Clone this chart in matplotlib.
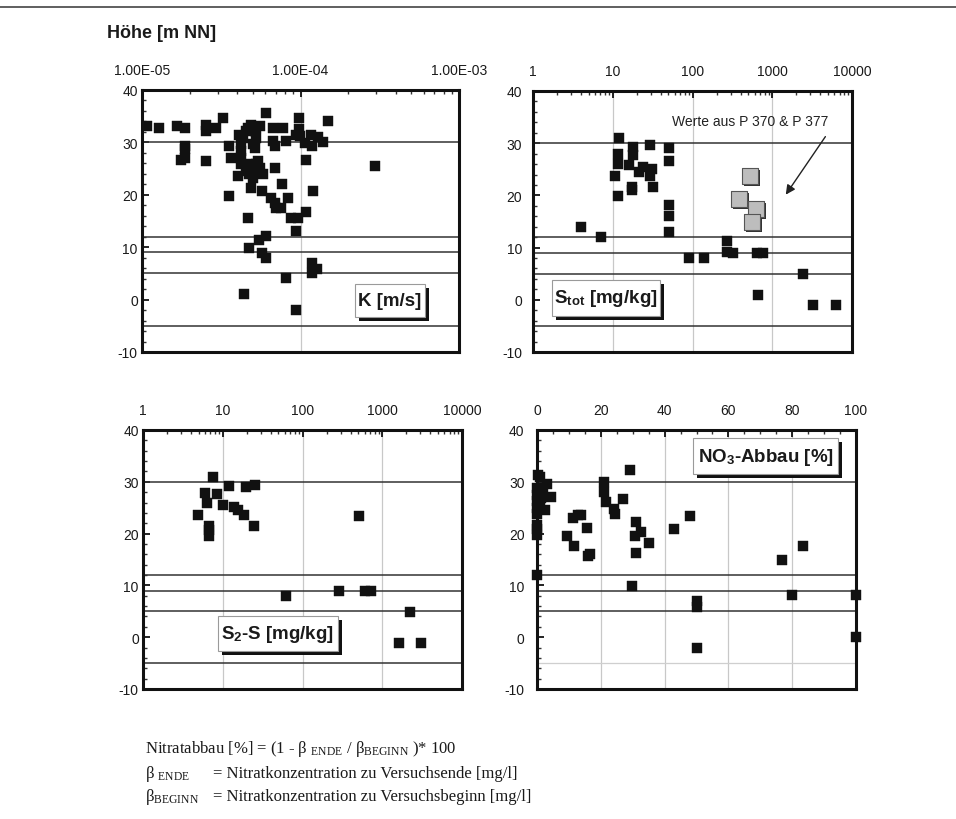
import matplotlib
matplotlib.use("Agg")
import matplotlib.pyplot as plt
from matplotlib.patches import Rectangle
from matplotlib.transforms import offset_copy
from matplotlib.lines import Line2D
from matplotlib.ticker import FixedLocator, LogLocator, MultipleLocator, NullFormatter

plt.rcParams['font.family'] = ['Liberation Sans', 'DejaVu Sans']
plt.rcParams['axes.unicode_minus'] = False
plt.rcParams['mathtext.fontset'] = 'custom'
plt.rcParams['mathtext.rm'] = 'Liberation Serif'
plt.rcParams['mathtext.it'] = 'Liberation Serif:italic'
plt.rcParams['mathtext.bf'] = 'Liberation Sans:bold'
plt.rcParams['mathtext.sf'] = 'Liberation Sans'

# ---------------- data ----------------
ref_levels = [30, 12, 9, 5, -5]

k_values = [1.08e-5, 1.28e-5, 1.67e-5, 1.88e-5, 1.75e-5, 1.87e-5, 1.87e-5, 1.87e-5,
            2.55e-5, 2.55e-5, 2.55e-5, 2.95e-5, 3.26e-5, 3.56e-5, 3.56e-5, 3.65e-5, 4.01e-5,
            4.11e-5, 4.22e-5, 4.22e-5, 4.22e-5, 4.22e-5, 4.32e-5, 4.54e-5, 4.65e-5, 4.88e-5,
            5.00e-5, 5.13e-5, 5.25e-5, 5.52e-5, 5.25e-5, 5.00e-5, 5.13e-5, 4.54e-5, 4.76e-5,
            5.00e-5, 5.25e-5, 5.38e-5, 5.52e-5, 5.79e-5, 4.88e-5, 5.25e-5, 4.88e-5, 4.65e-5,
            4.76e-5, 5.46e-5, 6.08e-5, 5.73e-5, 6.08e-5, 4.43e-5, 6.08e-5, 6.70e-5, 6.70e-5,
            6.87e-5, 6.87e-5, 5.73e-5, 6.54e-5, 6.87e-5, 7.04e-5, 7.57e-5, 7.69e-5, 7.76e-5,
            8.15e-5, 8.35e-5, 8.77e-5, 8.15e-5, 9.43e-5, 9.81e-5, 9.81e-5, 9.90e-5, 9.66e-5,
            9.43e-5, 9.43e-5, 1.08e-4, 1.09e-4, 1.07e-4, 1.17e-4, 1.19e-4, 1.20e-4, 1.19e-4,
            1.19e-4, 1.28e-4, 1.29e-4, 1.38e-4, 1.49e-4, 2.97e-4]
k_heights = [33.1, 32.8, 33.1, 32.8, 26.7, 27.1, 29.3, 28.7,
             33.4, 32.2, 26.4, 32.7, 34.7, 29.3, 19.7, 27.1, 23.6,
             31.5, 29.6, 28.3, 27.1, 25.8, 30.9, 32.2, 32.8, 33.4,
             32.8, 32.2, 32.8, 33.1, 30.9, 29.6, 29.0, 24.5, 23.9,
             23.2, 24.5, 26.4, 25.1, 23.9, 25.8, 25.8, 21.3, 15.6,
             9.8, 11.4, 12.1, 8.9, 8.0, 1.0, 35.7, 32.8, 30.3,
             29.3, 25.1, 20.8, 19.4, 18.4, 17.5, 17.5, 22.0, 32.8,
             30.3, 19.4, 15.6, 4.1, 31.5, 34.7, 32.5, 31.2, 15.6,
             13.0, -2.0, 26.7, 16.8, 29.9, 31.5, 29.3, 20.7, 7.0,
             5.0, 5.9, 31.0, 30.1, 34.0, 25.5]

stot_values = [4.05, 7.1, 10.6, 12.0, 11.7, 11.5, 11.5, 15.9, 17.7, 17.7, 17.2, 17.4,
               21.5, 24.1, 29.2, 30.7, 29.5, 32.2, 50.7, 50.7, 50.7, 50.7, 50.7,
               91.2, 141, 274, 274, 326, 640, 762, 671, 2421, 3236, 6353]
stot_heights = [13.9, 12.0, 23.7, 31.0, 28.0, 26.1, 19.9, 25.8, 29.3, 27.7, 21.6, 21.0,
                24.5, 25.4, 29.6, 25.1, 23.8, 21.6, 29.1, 26.6, 18.2, 16.0, 13.0,
                8.0, 8.0, 11.2, 9.1, 9.0, 9.0, 9.0, 1.0, 5.0, -1.0, -1.0]
p370_values = [528, 384, 629, 554]
p370_heights = [23.7, 19.4, 17.4, 14.9]

s2s_values = [4.91, 5.96, 6.37, 6.75, 6.70, 6.65, 7.58, 8.51, 9.93, 12.0, 13.8, 15.6,
              18.4, 19.5, 24.6, 25.3, 62, 518, 290, 610, 718, 2242, 1633, 3052]
s2s_heights = [23.6, 27.9, 26.0, 21.5, 20.6, 19.6, 31.0, 27.6, 25.6, 29.2, 25.1, 24.5,
               23.6, 29.0, 21.5, 29.4, 7.9, 23.4, 8.9, 8.9, 8.9, 4.8, -1.1, -1.1]

no3_values = [0.3, 0.8, 0.0, 0.0, 0.0, 0.0, 0.0, 0.0, 0.0, 0.0, 0.6, 0.8, 1.4, 1.9,
              3.0, 2.4, 4.5, 0.0, 9.5, 11.2, 11.6, 12.7, 13.7, 15.6, 15.9, 16.5,
              20.9, 21.1, 21.6, 24.1, 24.6, 27.1, 29.1, 29.9, 31.0, 30.6, 31.0, 32.6,
              35.2, 42.9, 47.9, 50.0, 50.0, 50.0, 76.7, 79.9, 83.3, 99.9, 99.9]
no3_heights = [31.3, 30.9, 28.8, 27.5, 26.3, 25.0, 23.7, 21.7, 20.8, 19.8, 28.2, 25.6, 26.9, 28.8,
               29.5, 24.6, 27.0, 12.1, 19.5, 23.0, 17.6, 23.5, 23.6, 21.0, 15.6, 16.1,
               30.0, 28.1, 26.1, 24.8, 23.8, 26.6, 32.2, 9.8, 22.2, 19.5, 16.3, 20.3,
               18.2, 20.8, 23.4, 7.0, 5.8, -2.0, 15.0, 8.1, 17.6, 8.1, 0.0]

k_ticks = [1e-5, 1e-4, 1e-3]
k_ticklabels = ["1.00E-05", "1.00E-04", "1.00E-03"]
s_ticks = [1, 10, 100, 1000, 10000]
s_ticklabels = ["1", "10", "100", "1000", "10000"]
no3_ticks = [0, 20, 40, 60, 80, 100]
y_ticks = [-10, 0, 10, 20, 30, 40]

# ---------------- figure ----------------
W, H = 956, 820
fig = plt.figure(figsize=(W / 100, H / 100), dpi=100)
fig.patch.set_facecolor('white')

def px_axes(l, r, t, b):
    return fig.add_axes([l / W, 1 - b / H, (r - l) / W, (b - t) / H])

ax1 = px_axes(142, 459, 91, 353)
ax2 = px_axes(533, 852, 92, 353)
ax3 = px_axes(143, 462, 431, 690)
ax4 = px_axes(537, 856, 431, 690)

TXT = '#1a1a1a'

def style(ax, xlog, xlim, xticks, xlabels, vgrid, minor_x, ypad, light_levels=()):
    if xlog:
        ax.set_xscale('log')
        ax.xaxis.set_minor_locator(LogLocator(base=10, subs=range(2, 10)))
    else:
        ax.xaxis.set_minor_locator(MultipleLocator(minor_x))
    ax.set_xlim(*xlim)
    ax.set_ylim(-10, 40)
    ax.xaxis.set_major_locator(FixedLocator(xticks))
    ax.set_xticklabels(xlabels)
    ax.xaxis.set_minor_formatter(NullFormatter())
    ax.set_yticks(y_ticks)
    ax.yaxis.set_minor_locator(MultipleLocator(2))
    ax.tick_params(axis='x', which='both', direction='in', top=True, bottom=False,
                   labeltop=True, labelbottom=False, pad=9, labelsize=10, labelcolor=TXT)
    ax.tick_params(axis='y', which='both', direction='in', left=True, right=False,
                   pad=ypad, labelsize=10, labelcolor=TXT)
    ax.tick_params(which='major', length=5, width=1.3, color='#111')
    ax.tick_params(which='minor', length=3, width=1.0, color='#333')
    for s in ax.spines.values():
        s.set_linewidth(2.2)
        s.set_color('#111')
    for v in vgrid:
        ax.axvline(v, color='#c8c8c8', lw=0.9, zorder=1)
    for lev in ref_levels:
        if lev in light_levels:
            ax.axhline(lev, color='#cfcfcf', lw=0.9, zorder=1)
        else:
            ax.axhline(lev, color='#333333', lw=1.1, zorder=2)

style(ax1, True, (1e-5, 1e-3), k_ticks, k_ticklabels, [1e-4], None, 3)
style(ax2, True, (1, 10000), s_ticks, s_ticklabels, [10, 100, 1000], None, 8)
style(ax3, True, (1, 10000), s_ticks, s_ticklabels, [10, 100, 1000], None, 3)
style(ax4, False, (0, 100), no3_ticks, [str(t) for t in no3_ticks], [20, 40, 60, 80], 5, 9,
      light_levels=(-5,))

mk = dict(marker='s', s=42, c='#111111', edgecolors='#111111', linewidths=0.3, zorder=4,
          clip_on=False)
ax1.scatter(k_values, k_heights, **mk)
ax2.scatter(stot_values, stot_heights, **mk)
ax3.scatter(s2s_values, s2s_heights, **mk)
ax4.scatter(no3_values, no3_heights, **mk)

# grey squares with shadow
ax2.scatter(p370_values, p370_heights, marker='s', s=120, c='#333333', linewidths=0,
            transform=offset_copy(ax2.transData, fig=fig, x=2, y=-2, units='dots'), zorder=4)
ax2.scatter(p370_values, p370_heights, marker='s', s=120, c='#bdbdbd', edgecolors='#555555',
            linewidths=0.8, zorder=5)

ax2.text(0.68, 0.885, "Werte aus P 370 & P 377", transform=ax2.transAxes, ha='center',
         va='center', fontsize=10, color='#222222', zorder=6)
ax2.annotate('', xy=(1412, 19.7), xytext=(4853, 31.7),
             arrowprops=dict(arrowstyle='-|>', color='#222222', lw=1.0, mutation_scale=14),
             zorder=6)

def label_box(ax, x0, x1, y0, y1, text):
    shadow = Rectangle((x0, y0), x1 - x0, y1 - y0,
                       transform=offset_copy(ax.transAxes, fig=fig, x=4, y=-4, units='dots'),
                       facecolor='#111111', edgecolor='none', zorder=7)
    box = Rectangle((x0, y0), x1 - x0, y1 - y0, transform=ax.transAxes,
                    facecolor='white', edgecolor='#9a9a9a', lw=0.8, zorder=8)
    ax.add_patch(shadow)
    ax.add_patch(box)
    ax.text((x0 + x1) / 2, (y0 + y1) / 2, text, transform=ax.transAxes, ha='center',
            va='center', fontsize=13.5, fontweight='bold', color=TXT, zorder=9)

label_box(ax1, 0.672, 0.893, 0.134, 0.260, "K [m/s]")
label_box(ax2, 0.060, 0.398, 0.138, 0.276, r"S$_\mathbf{tot}$ [mg/kg]")
label_box(ax3, 0.235, 0.611, 0.147, 0.282, r"S$_\mathbf{2}$-S [mg/kg]")
label_box(ax4, 0.489, 0.944, 0.830, 0.969, r"NO$_\mathbf{3}$-Abbau [%]")

fig.text(107 / W, 1 - 34 / H, "Höhe [m NN]", ha='left', va='center', fontsize=13,
         fontweight='bold', color=TXT)

# formula text
serif = ['Liberation Serif', 'DejaVu Serif']
fs = 12
fig.text(145 / W, 1 - 749 / H,
         r"Nitratabbau [%] = (1 - β $_{\mathrm{ENDE}}$ / β$_{\mathrm{BEGINN}}$ )* 100",
         family=serif, fontsize=fs, ha='left', va='center', color=TXT)
fig.text(145 / W, 1 - 774 / H, r"β $_{\mathrm{ENDE}}$", family=serif, fontsize=fs,
         ha='left', va='center', color=TXT)
fig.text(213 / W, 1 - 774 / H, "= Nitratkonzentration zu Versuchsende [mg/l]",
         family=serif, fontsize=fs, ha='left', va='center', color=TXT)
fig.text(145 / W, 1 - 797 / H, r"β$_{\mathrm{BEGINN}}$", family=serif, fontsize=fs,
         ha='left', va='center', color=TXT)
fig.text(213 / W, 1 - 797 / H, "= Nitratkonzentration zu Versuchsbeginn [mg/l]",
         family=serif, fontsize=fs, ha='left', va='center', color=TXT)

# page frame line at top
fig.add_artist(Line2D([0, 1], [1 - 8 / H, 1 - 8 / H], color='#444444', lw=1.2))

fig.savefig("out.png", dpi=100, facecolor='white')
